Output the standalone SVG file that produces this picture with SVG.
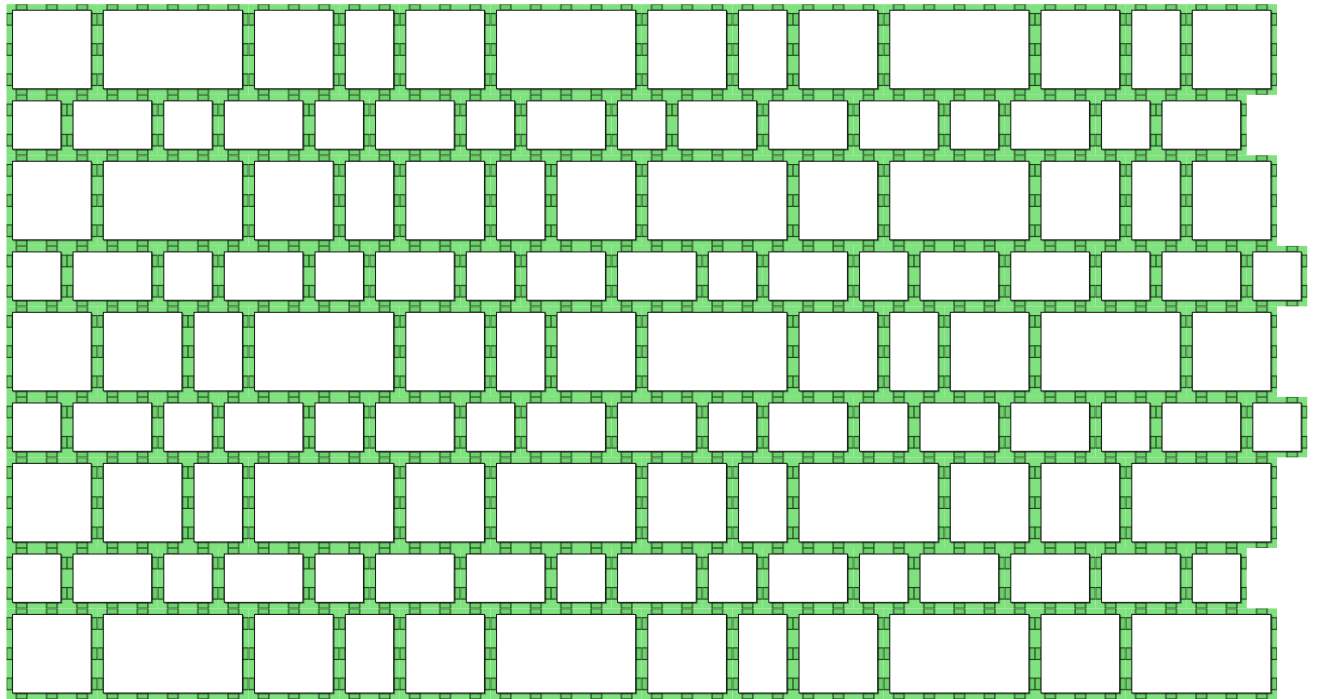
<svg xmlns="http://www.w3.org/2000/svg" width="1317" height="699" viewBox="0 0 1317 699">
<defs>
<pattern id="t" width="30" height="30" patternUnits="userSpaceOnUse">
<rect width="30" height="30" fill="#80e27f"/>
<g fill="#6fcf6e" stroke="#174a17" stroke-width="1.15">
<rect x="9.75" y="0" width="10.5" height="6"/>
<rect x="9.75" y="24" width="10.5" height="6"/>
<rect x="0" y="9.25" width="6" height="11.5"/>
<rect x="24" y="9.25" width="6" height="11.5"/>
</g>
</pattern>
<filter id="sh" x="-5%" y="-5%" width="112%" height="112%">
<feDropShadow dx="1" dy="1" stdDeviation="0.4" flood-color="#000" flood-opacity="0.4"/>
</filter>
</defs>
<style>
.c{fill:url(#t)}
.b{fill:#fff;stroke:#1a1a1a;stroke-width:1;filter:url(#sh)}
</style>
<rect width="1317" height="699" fill="#fff"/>
<g transform="translate(6.5,4.2) scale(1.00833,1.007)">
<g id="nodes">
<!-- Row 1 -->
<g id="r1n1" transform="translate(0,0)"><rect class="c" width="90" height="90"/><rect class="b" x="6" y="6" width="78" height="78"/></g>
<g id="r1n2" transform="translate(90,0)"><rect class="c" width="150" height="90"/><rect class="b" x="6" y="6" width="138" height="78"/></g>
<g id="r1n3" transform="translate(240,0)"><rect class="c" width="90" height="90"/><rect class="b" x="6" y="6" width="78" height="78"/></g>
<g id="r1n4" transform="translate(330,0)"><rect class="c" width="60" height="90"/><rect class="b" x="6" y="6" width="48" height="78"/></g>
<g id="r1n5" transform="translate(390,0)"><rect class="c" width="90" height="90"/><rect class="b" x="6" y="6" width="78" height="78"/></g>
<g id="r1n6" transform="translate(480,0)"><rect class="c" width="150" height="90"/><rect class="b" x="6" y="6" width="138" height="78"/></g>
<g id="r1n7" transform="translate(630,0)"><rect class="c" width="90" height="90"/><rect class="b" x="6" y="6" width="78" height="78"/></g>
<g id="r1n8" transform="translate(720,0)"><rect class="c" width="60" height="90"/><rect class="b" x="6" y="6" width="48" height="78"/></g>
<g id="r1n9" transform="translate(780,0)"><rect class="c" width="90" height="90"/><rect class="b" x="6" y="6" width="78" height="78"/></g>
<g id="r1n10" transform="translate(870,0)"><rect class="c" width="150" height="90"/><rect class="b" x="6" y="6" width="138" height="78"/></g>
<g id="r1n11" transform="translate(1020,0)"><rect class="c" width="90" height="90"/><rect class="b" x="6" y="6" width="78" height="78"/></g>
<g id="r1n12" transform="translate(1110,0)"><rect class="c" width="60" height="90"/><rect class="b" x="6" y="6" width="48" height="78"/></g>
<g id="r1n13" transform="translate(1170,0)"><rect class="c" width="90" height="90"/><rect class="b" x="6" y="6" width="78" height="78"/></g>
<!-- Row 2 -->
<g id="r2n1" transform="translate(0,90)"><rect class="c" width="60" height="60"/><rect class="b" x="6" y="6" width="48" height="48"/></g>
<g id="r2n2" transform="translate(60,90)"><rect class="c" width="90" height="60"/><rect class="b" x="6" y="6" width="78" height="48"/></g>
<g id="r2n3" transform="translate(150,90)"><rect class="c" width="60" height="60"/><rect class="b" x="6" y="6" width="48" height="48"/></g>
<g id="r2n4" transform="translate(210,90)"><rect class="c" width="90" height="60"/><rect class="b" x="6" y="6" width="78" height="48"/></g>
<g id="r2n5" transform="translate(300,90)"><rect class="c" width="60" height="60"/><rect class="b" x="6" y="6" width="48" height="48"/></g>
<g id="r2n6" transform="translate(360,90)"><rect class="c" width="90" height="60"/><rect class="b" x="6" y="6" width="78" height="48"/></g>
<g id="r2n7" transform="translate(450,90)"><rect class="c" width="60" height="60"/><rect class="b" x="6" y="6" width="48" height="48"/></g>
<g id="r2n8" transform="translate(510,90)"><rect class="c" width="90" height="60"/><rect class="b" x="6" y="6" width="78" height="48"/></g>
<g id="r2n9" transform="translate(600,90)"><rect class="c" width="60" height="60"/><rect class="b" x="6" y="6" width="48" height="48"/></g>
<g id="r2n10" transform="translate(660,90)"><rect class="c" width="90" height="60"/><rect class="b" x="6" y="6" width="78" height="48"/></g>
<g id="r2n11" transform="translate(750,90)"><rect class="c" width="90" height="60"/><rect class="b" x="6" y="6" width="78" height="48"/></g>
<g id="r2n12" transform="translate(840,90)"><rect class="c" width="90" height="60"/><rect class="b" x="6" y="6" width="78" height="48"/></g>
<g id="r2n13" transform="translate(930,90)"><rect class="c" width="60" height="60"/><rect class="b" x="6" y="6" width="48" height="48"/></g>
<g id="r2n14" transform="translate(990,90)"><rect class="c" width="90" height="60"/><rect class="b" x="6" y="6" width="78" height="48"/></g>
<g id="r2n15" transform="translate(1080,90)"><rect class="c" width="60" height="60"/><rect class="b" x="6" y="6" width="48" height="48"/></g>
<g id="r2n16" transform="translate(1140,90)"><rect class="c" width="90" height="60"/><rect class="b" x="6" y="6" width="78" height="48"/></g>
<!-- Row 3 -->
<g id="r3n1" transform="translate(0,150)"><rect class="c" width="90" height="90"/><rect class="b" x="6" y="6" width="78" height="78"/></g>
<g id="r3n2" transform="translate(90,150)"><rect class="c" width="150" height="90"/><rect class="b" x="6" y="6" width="138" height="78"/></g>
<g id="r3n3" transform="translate(240,150)"><rect class="c" width="90" height="90"/><rect class="b" x="6" y="6" width="78" height="78"/></g>
<g id="r3n4" transform="translate(330,150)"><rect class="c" width="60" height="90"/><rect class="b" x="6" y="6" width="48" height="78"/></g>
<g id="r3n5" transform="translate(390,150)"><rect class="c" width="90" height="90"/><rect class="b" x="6" y="6" width="78" height="78"/></g>
<g id="r3n6" transform="translate(480,150)"><rect class="c" width="60" height="90"/><rect class="b" x="6" y="6" width="48" height="78"/></g>
<g id="r3n7" transform="translate(540,150)"><rect class="c" width="90" height="90"/><rect class="b" x="6" y="6" width="78" height="78"/></g>
<g id="r3n8" transform="translate(630,150)"><rect class="c" width="150" height="90"/><rect class="b" x="6" y="6" width="138" height="78"/></g>
<g id="r3n9" transform="translate(780,150)"><rect class="c" width="90" height="90"/><rect class="b" x="6" y="6" width="78" height="78"/></g>
<g id="r3n10" transform="translate(870,150)"><rect class="c" width="150" height="90"/><rect class="b" x="6" y="6" width="138" height="78"/></g>
<g id="r3n11" transform="translate(1020,150)"><rect class="c" width="90" height="90"/><rect class="b" x="6" y="6" width="78" height="78"/></g>
<g id="r3n12" transform="translate(1110,150)"><rect class="c" width="60" height="90"/><rect class="b" x="6" y="6" width="48" height="78"/></g>
<g id="r3n13" transform="translate(1170,150)"><rect class="c" width="90" height="90"/><rect class="b" x="6" y="6" width="78" height="78"/></g>
<!-- Row 4 -->
<g id="r4n1" transform="translate(0,240)"><rect class="c" width="60" height="60"/><rect class="b" x="6" y="6" width="48" height="48"/></g>
<g id="r4n2" transform="translate(60,240)"><rect class="c" width="90" height="60"/><rect class="b" x="6" y="6" width="78" height="48"/></g>
<g id="r4n3" transform="translate(150,240)"><rect class="c" width="60" height="60"/><rect class="b" x="6" y="6" width="48" height="48"/></g>
<g id="r4n4" transform="translate(210,240)"><rect class="c" width="90" height="60"/><rect class="b" x="6" y="6" width="78" height="48"/></g>
<g id="r4n5" transform="translate(300,240)"><rect class="c" width="60" height="60"/><rect class="b" x="6" y="6" width="48" height="48"/></g>
<g id="r4n6" transform="translate(360,240)"><rect class="c" width="90" height="60"/><rect class="b" x="6" y="6" width="78" height="48"/></g>
<g id="r4n7" transform="translate(450,240)"><rect class="c" width="60" height="60"/><rect class="b" x="6" y="6" width="48" height="48"/></g>
<g id="r4n8" transform="translate(510,240)"><rect class="c" width="90" height="60"/><rect class="b" x="6" y="6" width="78" height="48"/></g>
<g id="r4n9" transform="translate(600,240)"><rect class="c" width="90" height="60"/><rect class="b" x="6" y="6" width="78" height="48"/></g>
<g id="r4n10" transform="translate(690,240)"><rect class="c" width="60" height="60"/><rect class="b" x="6" y="6" width="48" height="48"/></g>
<g id="r4n11" transform="translate(750,240)"><rect class="c" width="90" height="60"/><rect class="b" x="6" y="6" width="78" height="48"/></g>
<g id="r4n12" transform="translate(840,240)"><rect class="c" width="60" height="60"/><rect class="b" x="6" y="6" width="48" height="48"/></g>
<g id="r4n13" transform="translate(900,240)"><rect class="c" width="90" height="60"/><rect class="b" x="6" y="6" width="78" height="48"/></g>
<g id="r4n14" transform="translate(990,240)"><rect class="c" width="90" height="60"/><rect class="b" x="6" y="6" width="78" height="48"/></g>
<g id="r4n15" transform="translate(1080,240)"><rect class="c" width="60" height="60"/><rect class="b" x="6" y="6" width="48" height="48"/></g>
<g id="r4n16" transform="translate(1140,240)"><rect class="c" width="90" height="60"/><rect class="b" x="6" y="6" width="78" height="48"/></g>
<g id="r4n17" transform="translate(1230,240)"><rect class="c" width="60" height="60"/><rect class="b" x="6" y="6" width="48" height="48"/></g>
<!-- Row 5 -->
<g id="r5n1" transform="translate(0,300)"><rect class="c" width="90" height="90"/><rect class="b" x="6" y="6" width="78" height="78"/></g>
<g id="r5n2" transform="translate(90,300)"><rect class="c" width="90" height="90"/><rect class="b" x="6" y="6" width="78" height="78"/></g>
<g id="r5n3" transform="translate(180,300)"><rect class="c" width="60" height="90"/><rect class="b" x="6" y="6" width="48" height="78"/></g>
<g id="r5n4" transform="translate(240,300)"><rect class="c" width="150" height="90"/><rect class="b" x="6" y="6" width="138" height="78"/></g>
<g id="r5n5" transform="translate(390,300)"><rect class="c" width="90" height="90"/><rect class="b" x="6" y="6" width="78" height="78"/></g>
<g id="r5n6" transform="translate(480,300)"><rect class="c" width="60" height="90"/><rect class="b" x="6" y="6" width="48" height="78"/></g>
<g id="r5n7" transform="translate(540,300)"><rect class="c" width="90" height="90"/><rect class="b" x="6" y="6" width="78" height="78"/></g>
<g id="r5n8" transform="translate(630,300)"><rect class="c" width="150" height="90"/><rect class="b" x="6" y="6" width="138" height="78"/></g>
<g id="r5n9" transform="translate(780,300)"><rect class="c" width="90" height="90"/><rect class="b" x="6" y="6" width="78" height="78"/></g>
<g id="r5n10" transform="translate(870,300)"><rect class="c" width="60" height="90"/><rect class="b" x="6" y="6" width="48" height="78"/></g>
<g id="r5n11" transform="translate(930,300)"><rect class="c" width="90" height="90"/><rect class="b" x="6" y="6" width="78" height="78"/></g>
<g id="r5n12" transform="translate(1020,300)"><rect class="c" width="150" height="90"/><rect class="b" x="6" y="6" width="138" height="78"/></g>
<g id="r5n13" transform="translate(1170,300)"><rect class="c" width="90" height="90"/><rect class="b" x="6" y="6" width="78" height="78"/></g>
<!-- Row 6 -->
<g id="r6n1" transform="translate(0,390)"><rect class="c" width="60" height="60"/><rect class="b" x="6" y="6" width="48" height="48"/></g>
<g id="r6n2" transform="translate(60,390)"><rect class="c" width="90" height="60"/><rect class="b" x="6" y="6" width="78" height="48"/></g>
<g id="r6n3" transform="translate(150,390)"><rect class="c" width="60" height="60"/><rect class="b" x="6" y="6" width="48" height="48"/></g>
<g id="r6n4" transform="translate(210,390)"><rect class="c" width="90" height="60"/><rect class="b" x="6" y="6" width="78" height="48"/></g>
<g id="r6n5" transform="translate(300,390)"><rect class="c" width="60" height="60"/><rect class="b" x="6" y="6" width="48" height="48"/></g>
<g id="r6n6" transform="translate(360,390)"><rect class="c" width="90" height="60"/><rect class="b" x="6" y="6" width="78" height="48"/></g>
<g id="r6n7" transform="translate(450,390)"><rect class="c" width="60" height="60"/><rect class="b" x="6" y="6" width="48" height="48"/></g>
<g id="r6n8" transform="translate(510,390)"><rect class="c" width="90" height="60"/><rect class="b" x="6" y="6" width="78" height="48"/></g>
<g id="r6n9" transform="translate(600,390)"><rect class="c" width="90" height="60"/><rect class="b" x="6" y="6" width="78" height="48"/></g>
<g id="r6n10" transform="translate(690,390)"><rect class="c" width="60" height="60"/><rect class="b" x="6" y="6" width="48" height="48"/></g>
<g id="r6n11" transform="translate(750,390)"><rect class="c" width="90" height="60"/><rect class="b" x="6" y="6" width="78" height="48"/></g>
<g id="r6n12" transform="translate(840,390)"><rect class="c" width="60" height="60"/><rect class="b" x="6" y="6" width="48" height="48"/></g>
<g id="r6n13" transform="translate(900,390)"><rect class="c" width="90" height="60"/><rect class="b" x="6" y="6" width="78" height="48"/></g>
<g id="r6n14" transform="translate(990,390)"><rect class="c" width="90" height="60"/><rect class="b" x="6" y="6" width="78" height="48"/></g>
<g id="r6n15" transform="translate(1080,390)"><rect class="c" width="60" height="60"/><rect class="b" x="6" y="6" width="48" height="48"/></g>
<g id="r6n16" transform="translate(1140,390)"><rect class="c" width="90" height="60"/><rect class="b" x="6" y="6" width="78" height="48"/></g>
<g id="r6n17" transform="translate(1230,390)"><rect class="c" width="60" height="60"/><rect class="b" x="6" y="6" width="48" height="48"/></g>
<!-- Row 7 -->
<g id="r7n1" transform="translate(0,450)"><rect class="c" width="90" height="90"/><rect class="b" x="6" y="6" width="78" height="78"/></g>
<g id="r7n2" transform="translate(90,450)"><rect class="c" width="90" height="90"/><rect class="b" x="6" y="6" width="78" height="78"/></g>
<g id="r7n3" transform="translate(180,450)"><rect class="c" width="60" height="90"/><rect class="b" x="6" y="6" width="48" height="78"/></g>
<g id="r7n4" transform="translate(240,450)"><rect class="c" width="150" height="90"/><rect class="b" x="6" y="6" width="138" height="78"/></g>
<g id="r7n5" transform="translate(390,450)"><rect class="c" width="90" height="90"/><rect class="b" x="6" y="6" width="78" height="78"/></g>
<g id="r7n6" transform="translate(480,450)"><rect class="c" width="150" height="90"/><rect class="b" x="6" y="6" width="138" height="78"/></g>
<g id="r7n7" transform="translate(630,450)"><rect class="c" width="90" height="90"/><rect class="b" x="6" y="6" width="78" height="78"/></g>
<g id="r7n8" transform="translate(720,450)"><rect class="c" width="60" height="90"/><rect class="b" x="6" y="6" width="48" height="78"/></g>
<g id="r7n9" transform="translate(780,450)"><rect class="c" width="150" height="90"/><rect class="b" x="6" y="6" width="138" height="78"/></g>
<g id="r7n10" transform="translate(930,450)"><rect class="c" width="90" height="90"/><rect class="b" x="6" y="6" width="78" height="78"/></g>
<g id="r7n11" transform="translate(1020,450)"><rect class="c" width="90" height="90"/><rect class="b" x="6" y="6" width="78" height="78"/></g>
<g id="r7n12" transform="translate(1110,450)"><rect class="c" width="150" height="90"/><rect class="b" x="6" y="6" width="138" height="78"/></g>
<!-- Row 8 -->
<g id="r8n1" transform="translate(0,540)"><rect class="c" width="60" height="60"/><rect class="b" x="6" y="6" width="48" height="48"/></g>
<g id="r8n2" transform="translate(60,540)"><rect class="c" width="90" height="60"/><rect class="b" x="6" y="6" width="78" height="48"/></g>
<g id="r8n3" transform="translate(150,540)"><rect class="c" width="60" height="60"/><rect class="b" x="6" y="6" width="48" height="48"/></g>
<g id="r8n4" transform="translate(210,540)"><rect class="c" width="90" height="60"/><rect class="b" x="6" y="6" width="78" height="48"/></g>
<g id="r8n5" transform="translate(300,540)"><rect class="c" width="60" height="60"/><rect class="b" x="6" y="6" width="48" height="48"/></g>
<g id="r8n6" transform="translate(360,540)"><rect class="c" width="90" height="60"/><rect class="b" x="6" y="6" width="78" height="48"/></g>
<g id="r8n7" transform="translate(450,540)"><rect class="c" width="90" height="60"/><rect class="b" x="6" y="6" width="78" height="48"/></g>
<g id="r8n8" transform="translate(540,540)"><rect class="c" width="60" height="60"/><rect class="b" x="6" y="6" width="48" height="48"/></g>
<g id="r8n9" transform="translate(600,540)"><rect class="c" width="90" height="60"/><rect class="b" x="6" y="6" width="78" height="48"/></g>
<g id="r8n10" transform="translate(690,540)"><rect class="c" width="60" height="60"/><rect class="b" x="6" y="6" width="48" height="48"/></g>
<g id="r8n11" transform="translate(750,540)"><rect class="c" width="90" height="60"/><rect class="b" x="6" y="6" width="78" height="48"/></g>
<g id="r8n12" transform="translate(840,540)"><rect class="c" width="60" height="60"/><rect class="b" x="6" y="6" width="48" height="48"/></g>
<g id="r8n13" transform="translate(900,540)"><rect class="c" width="90" height="60"/><rect class="b" x="6" y="6" width="78" height="48"/></g>
<g id="r8n14" transform="translate(990,540)"><rect class="c" width="90" height="60"/><rect class="b" x="6" y="6" width="78" height="48"/></g>
<g id="r8n15" transform="translate(1080,540)"><rect class="c" width="90" height="60"/><rect class="b" x="6" y="6" width="78" height="48"/></g>
<g id="r8n16" transform="translate(1170,540)"><rect class="c" width="60" height="60"/><rect class="b" x="6" y="6" width="48" height="48"/></g>
<!-- Row 9 -->
<g id="r9n1" transform="translate(0,600)"><rect class="c" width="90" height="90"/><rect class="b" x="6" y="6" width="78" height="78"/></g>
<g id="r9n2" transform="translate(90,600)"><rect class="c" width="150" height="90"/><rect class="b" x="6" y="6" width="138" height="78"/></g>
<g id="r9n3" transform="translate(240,600)"><rect class="c" width="90" height="90"/><rect class="b" x="6" y="6" width="78" height="78"/></g>
<g id="r9n4" transform="translate(330,600)"><rect class="c" width="60" height="90"/><rect class="b" x="6" y="6" width="48" height="78"/></g>
<g id="r9n5" transform="translate(390,600)"><rect class="c" width="90" height="90"/><rect class="b" x="6" y="6" width="78" height="78"/></g>
<g id="r9n6" transform="translate(480,600)"><rect class="c" width="150" height="90"/><rect class="b" x="6" y="6" width="138" height="78"/></g>
<g id="r9n7" transform="translate(630,600)"><rect class="c" width="90" height="90"/><rect class="b" x="6" y="6" width="78" height="78"/></g>
<g id="r9n8" transform="translate(720,600)"><rect class="c" width="60" height="90"/><rect class="b" x="6" y="6" width="48" height="78"/></g>
<g id="r9n9" transform="translate(780,600)"><rect class="c" width="90" height="90"/><rect class="b" x="6" y="6" width="78" height="78"/></g>
<g id="r9n10" transform="translate(870,600)"><rect class="c" width="150" height="90"/><rect class="b" x="6" y="6" width="138" height="78"/></g>
<g id="r9n11" transform="translate(1020,600)"><rect class="c" width="90" height="90"/><rect class="b" x="6" y="6" width="78" height="78"/></g>
<g id="r9n12" transform="translate(1110,600)"><rect class="c" width="150" height="90"/><rect class="b" x="6" y="6" width="138" height="78"/></g>
</g>
<g id="connectors"/>
</g>
</svg>
